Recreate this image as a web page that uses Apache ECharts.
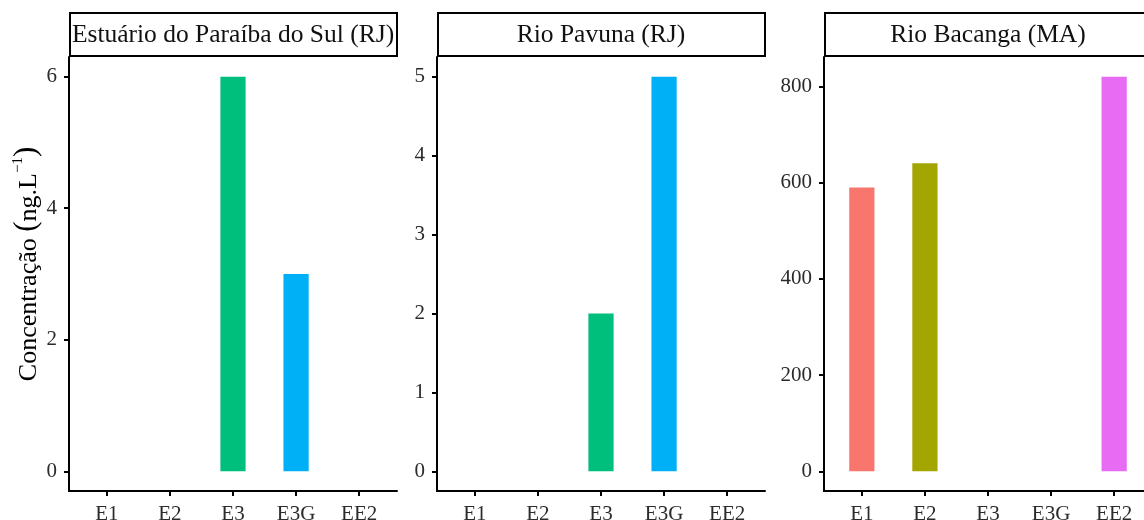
<!DOCTYPE html>
<html>
<head>
<meta charset="utf-8">
<script src="https://cdn.jsdelivr.net/npm/echarts@6/dist/echarts.min.js"></script>
<style>
  html, body { margin: 0; padding: 0; background: #fff; }
  #chart { width: 1144px; height: 520px; }
</style>
</head>
<body>
<div id="chart"></div>
<script>
// Sampling points shared by all panels
const categories = ['E1', 'E2', 'E3', 'E3G', 'EE2'];
// ggplot-style hue palette, one colour per point
const categoryColors = ['#F8766D', '#A3A500', '#00BF7D', '#00B0F6', '#E76BF3'];

// Panel titles (one facet per site)
const panelTitles = ['Estuário do Paraíba do Sul (RJ)', 'Rio Pavuna (RJ)', 'Rio Bacanga (MA)'];

// Concentrations in ng.L-1 (null = not detected)
const paraibaValues = [null, null, 6, 3, null];
const pavunaValues  = [null, null, 2, 5, null];
const bacangaValues = [590, 640, null, null, 820];

// Y tick labels per panel
const paraibaTicks = [0, 2, 4, 6];
const pavunaTicks  = [0, 1, 2, 3, 4, 5];
const bacangaTicks = [0, 200, 400, 600, 800];

const panelValues = [paraibaValues, pavunaValues, bacangaValues];
const panelTicks = [paraibaTicks, pavunaTicks, bacangaTicks];

// Layout of the three panels
const FONT = 'Liberation Serif';
const panelLefts = [69, 437, 824];
const panelWidth = 328;
const panelTop = 57;
const panelHeight = 434;
const stripTop = 13;

const chart = echarts.init(document.getElementById('chart'), null, { renderer: 'canvas' });

const grids = [], xAxes = [], yAxes = [], series = [], graphics = [];

panelValues.forEach((vals, i) => {
  grids.push({ left: panelLefts[i], top: panelTop, width: panelWidth, height: panelHeight,
               containLabel: false, outerBoundsMode: 'none' });

  xAxes.push({
    type: 'value', gridIndex: i, min: 0.4, max: categories.length + 0.6,
    axisLine: { onZero: false, lineStyle: { color: '#000', width: 2 } },
    axisTick: { show: true, length: 5, lineStyle: { color: '#000', width: 2 },
                customValues: categories.map((_, k) => k + 1) },
    axisLabel: { customValues: categories.map((_, k) => k + 1),
                 formatter: v => categories[Math.round(v) - 1] || '',
                 color: '#2b2b2b', fontFamily: FONT, fontSize: 21, margin: 13 },
    splitLine: { show: false }
  });

  const dataMax = Math.max(...vals.filter(v => v != null));
  const pad = dataMax * 0.05;
  const y = {
    type: 'value', gridIndex: i, min: -pad, max: dataMax + pad,
    axisLine: { show: true, onZero: false, lineStyle: { color: '#000', width: 2 } },
    axisTick: { show: true, length: 5, lineStyle: { color: '#000', width: 2 },
                customValues: panelTicks[i] },
    axisLabel: { customValues: panelTicks[i], color: '#2b2b2b', fontFamily: FONT, fontSize: 21, margin: 12 },
    splitLine: { show: false }
  };
  if (i === 0) {
    y.name = '{t|Concentração }{p|(}{t|ng.L}{s|−1}{p|)}';
    y.nameLocation = 'middle';
    y.nameGap = 24;
    y.nameTextStyle = {
      padding: [0, 0, 0, 20],
      rich: {
        t: { fontFamily: FONT, fontSize: 26, color: '#000', lineHeight: 32, verticalAlign: 'bottom' },
        p: { fontFamily: FONT, fontSize: 31, color: '#000', lineHeight: 32, verticalAlign: 'bottom' },
        s: { fontFamily: FONT, fontSize: 15, color: '#000', lineHeight: 32, verticalAlign: 'top' }
      }
    };
  }
  yAxes.push(y);

  series.push({
    type: 'bar', xAxisIndex: i, yAxisIndex: i, barWidth: '40%',
    data: vals.map((v, k) => ({ value: [k + 1, v], itemStyle: { color: categoryColors[k] } })),
    silent: true, animation: false
  });

  // facet strip: framed title box above each panel
  graphics.push({
    type: 'rect', shape: { x: panelLefts[i] + 1, y: stripTop, width: panelWidth - 1, height: panelTop - stripTop - 1 },
    style: { fill: '#fff', stroke: '#000', lineWidth: 2 }, z: 10
  });
  graphics.push({
    type: 'text', x: panelLefts[i] + panelWidth / 2, y: (stripTop + panelTop) / 2,
    style: { text: panelTitles[i], fill: '#111', font: '25.5px "' + FONT + '"',
             align: 'center', verticalAlign: 'middle' }, z: 11
  });
});

chart.setOption({
  backgroundColor: '#fff',
  animation: false,
  grid: grids, xAxis: xAxes, yAxis: yAxes, series: series, graphic: graphics
});
</script>
</body>
</html>
